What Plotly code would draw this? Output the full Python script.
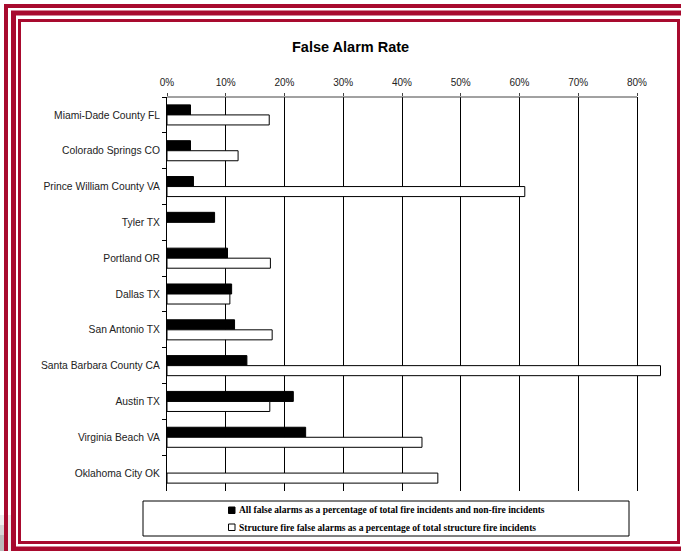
import plotly.graph_objects as go

categories = ["Miami-Dade County FL", "Colorado Springs CO", "Prince William County VA",
              "Tyler TX", "Portland OR", "Dallas TX", "San Antonio TX",
              "Santa Barbara County CA", "Austin TX", "Virginia Beach VA", "Oklahoma City OK"]
all_false = [4.0, 4.0, 4.5, 8.1, 10.3, 11.0, 11.5, 13.6, 21.5, 23.6, None]
structure_false = [17.4, 12.1, 60.9, None, 17.6, 10.7, 17.9, 84.0, 17.5, 43.4, 46.1]
tick_vals = [0, 10, 20, 30, 40, 50, 60, 70, 80]
tick_text = ["0%", "10%", "20%", "30%", "40%", "50%", "60%", "70%", "80%"]
series_names = ["All false alarms as a percentage of total fire incidents and non-fire incidents",
                "Structure fire false alarms as a percentage of total structure fire incidents"]
title_text = "False Alarm Rate"

W, H = 681, 551
ML, MR, MT, MB = 167, 9, 97, 60
PW, PH = W - ML - MR, H - MT - MB
AXIS_PX = 470  # pixel length of the 0..80% scale
X_MAX = tick_vals[-1] * PW / AXIS_PX


def px(x):
    return (x - ML) / PW


def py(y):
    return (H - MB - y) / PH


RED = "#A80A2E"

fig = go.Figure()
fig.add_trace(go.Bar(y=categories, x=all_false, orientation="h", name=series_names[0],
                     marker=dict(color="black", line=dict(color="black", width=1)),
                     showlegend=False))
fig.add_trace(go.Bar(y=categories, x=structure_false, orientation="h", name=series_names[1],
                     marker=dict(color="white", line=dict(color="black", width=1)),
                     showlegend=False))

shapes = []
# faint shadow at bottom-left corner
for i, a in enumerate([0.10, 0.16, 0.22]):
    shapes.append(dict(type="rect", xref="paper", yref="paper", x0=px(0), y0=py(515 + i * 10),
                       x1=px(11 - i * 3), y1=py(551), line=dict(width=0),
                       fillcolor="rgba(90,90,90,%.2f)" % a, layer="below"))
# top axis line, only across the labelled scale
shapes.append(dict(type="line", xref="x", yref="paper", x0=tick_vals[0], x1=tick_vals[-1], y0=1, y1=1,
                   line=dict(color="#444", width=1), layer="above"))
# decorative frame
shapes.append(dict(type="rect", xref="paper", yref="paper", x0=px(6), y0=py(6), x1=px(720), y1=py(720),
                   line=dict(color=RED, width=4), fillcolor="rgba(0,0,0,0)", layer="above"))
shapes.append(dict(type="rect", xref="paper", yref="paper", x0=px(13.5), y0=py(13), x1=px(690), y1=py(549),
                   line=dict(color=RED, width=5), fillcolor="rgba(0,0,0,0)", layer="above"))
shapes.append(dict(type="rect", xref="paper", yref="paper", x0=px(19.5), y0=py(20.5), x1=px(678.5), y1=py(542.5),
                   line=dict(color=RED, width=3), fillcolor="rgba(0,0,0,0)", layer="above"))
# legend box
shapes.append(dict(type="rect", xref="paper", yref="paper", x0=px(143), y0=py(501), x1=px(629), y1=py(536),
                   line=dict(color="black", width=1), fillcolor="white"))
shapes.append(dict(type="rect", xref="paper", yref="paper", x0=px(228.5), y0=py(507), x1=px(235), y1=py(513.5),
                   line=dict(color="black", width=1), fillcolor="black"))
shapes.append(dict(type="rect", xref="paper", yref="paper", x0=px(228.5), y0=py(524), x1=px(235), y1=py(530.5),
                   line=dict(color="black", width=1), fillcolor="white"))

annotations = [
    dict(text="<b>" + title_text + "</b>", xref="paper", yref="paper", x=px(350), y=py(47),
         showarrow=False, font=dict(family="Liberation Sans, Arial", size=14.5, color="black"),
         xanchor="center", yanchor="middle"),
    dict(text="<b>" + series_names[0] + "</b>", xref="paper", yref="paper", x=px(237), y=py(510.5),
         showarrow=False, font=dict(family="Liberation Serif, Times New Roman", size=9.5, color="black"),
         xanchor="left", yanchor="middle"),
    dict(text="<b>" + series_names[1] + "</b>", xref="paper", yref="paper", x=px(237), y=py(527.5),
         showarrow=False, font=dict(family="Liberation Serif, Times New Roman", size=9.5, color="black"),
         xanchor="left", yanchor="middle"),
]

fig.update_layout(
    width=W, height=H,
    margin=dict(l=ML, r=MR, t=MT, b=MB, pad=0),
    paper_bgcolor="white", plot_bgcolor="white",
    barmode="group", bargap=0.44, bargroupgap=0,
    shapes=shapes, annotations=annotations,
    font=dict(family="Liberation Sans, Arial", size=10, color="#222"),
    xaxis=dict(side="top", range=[0, X_MAX], tickvals=tick_vals, ticktext=tick_text,
               showgrid=True, gridcolor="black", gridwidth=1, zeroline=False,
               showline=False,
               ticks="outside", ticklen=3, tickcolor="#444", ticklabelstandoff=3,
               tickfont=dict(size=10, color="#222")),
    yaxis=dict(autorange="reversed", showline=True, linecolor="black", linewidth=1,
               ticks="outside", ticklen=4, tickcolor="black", tickson="boundaries",
               ticklabelstandoff=4,
               showgrid=False, zeroline=False, tickfont=dict(size=10.3, color="#222")),
)

fig.write_html("out.html")
